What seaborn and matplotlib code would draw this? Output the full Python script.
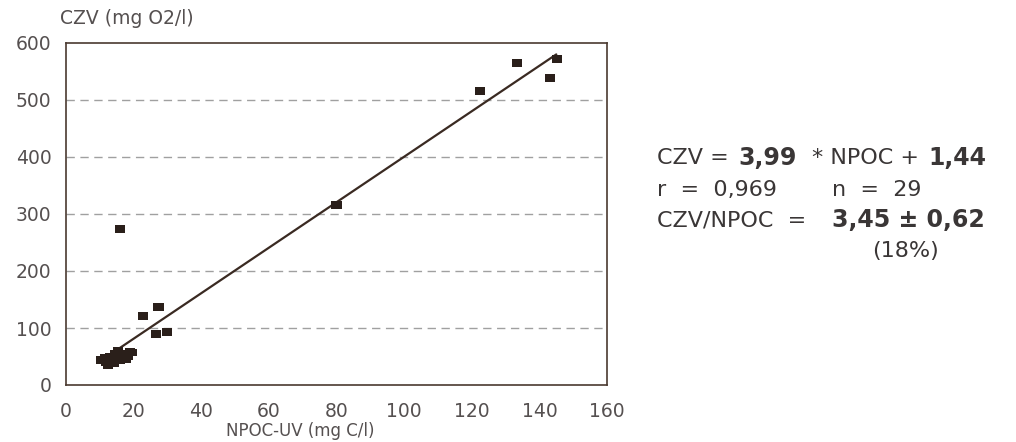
import matplotlib
matplotlib.use("Agg")
import matplotlib.pyplot as plt
import seaborn as sns
import numpy as np
import pandas as pd

# ---- data ----
npoc = [122.5, 133.4, 143.2, 145.3,
        80.0,
        16.0,
        22.7, 27.4, 26.6, 29.8,
        10.5, 11.5, 11.8, 12.5, 12.8, 13.2, 13.8, 14.2, 14.6, 15.0,
        15.3, 15.8, 16.2, 16.8, 17.2, 17.6, 18.2, 19.0, 19.6]
czv = [516, 565, 539, 572,
       316,
       274,
       121, 137, 89, 93,
       44, 47, 40, 35, 42, 50, 45, 38, 55, 48,
       60, 43, 52, 47, 55, 45, 50, 58, 57]
slope = 3.99
intercept = 1.44
fit_x = [14.0, 145.0]
xticks = [0, 20, 40, 60, 80, 100, 120, 140, 160]
xminor = [10, 30, 50, 70, 90, 110, 130, 150]
yticks = [0, 100, 200, 300, 400, 500, 600]
grid_y = [100, 200, 300, 400, 500]

df = pd.DataFrame({"NPOC": npoc, "CZV": czv})
fit_df = pd.DataFrame({"x": fit_x, "y": [slope * v + intercept for v in fit_x]})

sns.set_style("white")
plt.rcParams['font.family'] = ['DejaVu Sans']

fig = plt.figure(figsize=(10.16, 4.42), dpi=100)
ax = fig.add_axes([66/1016, 1-385/442, (607-66)/1016, (385-43)/442])

spine_col = "#4a3a30"
text_col = "#555050"
mark_col = "#2a1f1a"

for y in grid_y:
    ax.axhline(y, color="#a0a0a0", lw=1.0, ls=(0, (6, 4)), zorder=0)

rect = [(-1.0, -0.75), (1.0, -0.75), (1.0, 0.75), (-1.0, 0.75), (-1.0, -0.75)]
sns.lineplot(data=fit_df, x="x", y="y", ax=ax, color="#3a2a22", lw=1.6, zorder=2)
sns.scatterplot(data=df, x="NPOC", y="CZV", ax=ax, marker=rect, s=55,
                color=mark_col, edgecolor="none", zorder=3)

ax.set_xlim(0, 160)
ax.set_ylim(0, 600)
ax.set_xticks(xticks)
ax.set_xticks(xminor, minor=True)
ax.set_yticks(yticks)
ax.tick_params(axis="both", which="both", direction="inout", length=9,
               width=1.2, color=spine_col, labelcolor=text_col, labelsize=13.5)
ax.tick_params(axis="x", pad=8)
ax.tick_params(axis="y", pad=6)
for s in ax.spines.values():
    s.set_color(spine_col)
    s.set_linewidth(1.2)
ax.set_xlabel("")
ax.set_ylabel("")

fig.text(60/1016, 1-18/442, "CZV (mg O2/l)", fontsize=13.5, color=text_col,
         ha="left", va="center")
fig.text(300/1016, 1-431/442, "NPOC-UV (mg C/l)", fontsize=12, color=text_col,
         ha="center", va="center")

def t(x, y, s, bold=False):
    fig.text(x/1016, 1-y/442, s, fontsize=17 if bold else 16, color="#3a3636",
             fontweight="bold" if bold else "normal", ha="left", va="center")

t(657, 158, "CZV =")
t(738, 158, "3,99", bold=True)
t(812, 158, "* NPOC +")
t(928, 158, "1,44", bold=True)
t(657, 190, "r  =  0,969")
t(832, 190, "n  =  29")
t(657, 220, "CZV/NPOC  =")
t(832, 220, "3,45 \u00b1 0,62", bold=True)
t(872, 251, "(18%)")

fig.savefig("out.png", dpi=100)
